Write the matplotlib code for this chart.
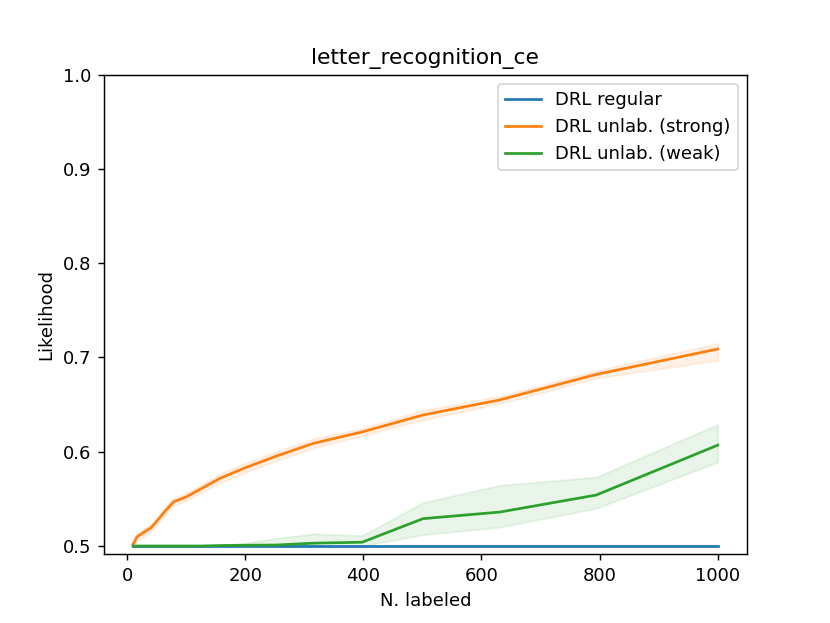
import matplotlib
matplotlib.use("Agg")
import matplotlib.pyplot as plt
import numpy as np

n_labeled = [10, 13, 16, 20, 25, 32, 40, 50, 63, 79, 100, 126, 158, 200, 251, 316, 398, 501, 631, 794, 1000]

regular_mean = [0.5] * 21
regular_lo = [0.5] * 21
regular_hi = [0.5] * 21

strong_mean = [0.502, 0.505, 0.509, 0.511, 0.513, 0.516, 0.519, 0.526, 0.536, 0.547, 0.552,
               0.561, 0.572, 0.583, 0.595, 0.609, 0.621, 0.639, 0.655, 0.682, 0.709]
strong_lo = [0.500, 0.502, 0.505, 0.507, 0.509, 0.512, 0.515, 0.522, 0.532, 0.543, 0.548,
             0.557, 0.567, 0.578, 0.590, 0.604, 0.617, 0.634, 0.651, 0.678, 0.697]
strong_hi = [0.504, 0.508, 0.513, 0.515, 0.517, 0.520, 0.523, 0.530, 0.540, 0.551, 0.556,
             0.565, 0.577, 0.588, 0.600, 0.614, 0.625, 0.644, 0.659, 0.686, 0.715]

weak_mean = [0.5, 0.5, 0.5, 0.5, 0.5, 0.5, 0.5, 0.5, 0.5, 0.5, 0.5,
             0.5, 0.5005, 0.5008, 0.501, 0.503, 0.504, 0.529, 0.536, 0.554, 0.607]
weak_lo = [0.5] * 17 + [0.512, 0.520, 0.540, 0.589]
weak_hi = [0.5, 0.5, 0.5, 0.5, 0.5, 0.5, 0.5, 0.5, 0.5, 0.5, 0.5,
           0.5, 0.501, 0.503, 0.508, 0.513, 0.511, 0.546, 0.5645, 0.573, 0.629]

labels = ["DRL regular", "DRL unlab. (strong)", "DRL unlab. (weak)"]
colors = ["#1f77b4", "#ff7f0e", "#2ca02c"]

fig, ax = plt.subplots(figsize=(830 / 130, 623 / 130), dpi=130)
series = [(regular_mean, regular_lo, regular_hi),
          (strong_mean, strong_lo, strong_hi),
          (weak_mean, weak_lo, weak_hi)]
for (m, lo, hi), lab, c in zip(series, labels, colors):
    ax.plot(n_labeled, m, color=c, label=lab, linewidth=1.5)
    ax.fill_between(n_labeled, lo, hi, color=c, alpha=0.1)

ax.set_xlim(-39.5, 1049.5)
ax.set_ylim(0.491, 1.0)
ax.set_title("letter_recognition_ce")
ax.set_xlabel("N. labeled")
ax.set_ylabel("Likelihood")
ax.legend(loc="upper right")
fig.savefig("out.png", dpi=130)
